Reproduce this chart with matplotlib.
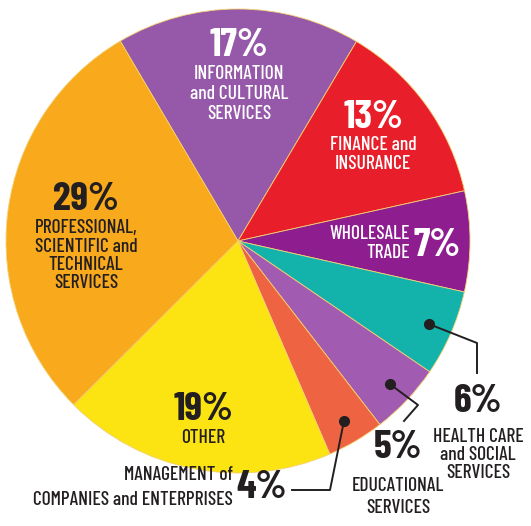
import numpy as np
import matplotlib
matplotlib.use("Agg")
import matplotlib.pyplot as plt

# --- datos ---
sectores = [
    "INFORMATION\nand CULTURAL\nSERVICES",
    "FINANCE and\nINSURANCE",
    "WHOLESALE\nTRADE",
    "HEALTH CARE\nand SOCIAL\nSERVICES",
    "EDUCATIONAL\nSERVICES",
    "MANAGEMENT of\nCOMPANIES and ENTERPRISES",
    "OTHER",
    "PROFESSIONAL,\nSCIENTIFIC and\nTECHNICAL\nSERVICES",
]
porcentajes = [17, 13, 7, 6, 5, 4, 19, 29]
colores = ["#9658a8", "#e81f2b", "#8e1e8f", "#13b3ac",
           "#a15bb0", "#ee6442", "#fce312", "#f8a91c"]

# fuente condensada
plt.rcParams["font.family"] = ["Barlow Condensed", "DejaVu Sans"]
OSCURO = "#231f20"
T_PCT = 29
T_TXT = 14
P_PCT = 700   # peso de los porcentajes
P_TXT = 500   # peso del texto

W, H = 531, 526
fig = plt.figure(figsize=(W / 100, H / 100), dpi=100)
ax = fig.add_axes([0, 0, 1, 1])

CX, CY, R = 238, H - 241, 232
wedges, _ = ax.pie(porcentajes, colors=colores, startangle=120.5,
                   counterclock=False, center=(CX, CY), radius=R,
                   wedgeprops=dict(linewidth=0.6, edgecolor="#f4d070"))
ax.set_xlim(0, W)
ax.set_ylim(0, H)
ax.axis("off")


def y(v):
    return H - v


def etiqueta(x, yp, pct, texto, color, sep=19, gap=28):
    ax.text(x, y(yp), f"{pct}%", color=color, fontsize=T_PCT, fontweight=P_PCT,
            ha="center", va="center")
    for i, l in enumerate(texto.split("\n")):
        ax.text(x, y(yp + gap + i * sep), l, color=color, fontsize=T_TXT,
                fontweight=P_TXT, ha="center", va="center")


# etiquetas interiores
etiqueta(239, 46, porcentajes[0], sectores[0], "white", sep=20)
etiqueta(373, 117, porcentajes[1], sectores[1], "white")
etiqueta(86, 200, porcentajes[7], sectores[7], OSCURO, sep=18.5)
etiqueta(203, 410, porcentajes[6], sectores[6], OSCURO)

# wholesale
for i, l in enumerate(sectores[2].split("\n")):
    ax.text(410, y(234 + i * 19), l, color="white", fontsize=T_TXT,
            fontweight=P_TXT, ha="right", va="center")
ax.text(437, y(246), f"{porcentajes[2]}%", color="white", fontsize=T_PCT,
        fontweight=P_PCT, ha="center", va="center")

# puntos y líneas guía para sectores pequeños
angs = [(w.theta1 + w.theta2) / 2 for w in wedges]
pts = {}
for k in (3, 4, 5):
    a = np.deg2rad(angs[k])
    pts[k] = (CX + 0.90 * R * np.cos(a), CY + 0.90 * R * np.sin(a))
    ax.plot(*pts[k], "o", color=OSCURO, ms=7, zorder=5)

lw = 1.4
ax.plot([pts[3][0], 477, 477], [pts[3][1], y(343), y(373)], color=OSCURO, lw=lw)
ax.plot([pts[4][0], 418, 404], [pts[4][1], y(405), y(421)], color=OSCURO, lw=lw)
ax.plot([pts[5][0], 330, 292], [pts[5][1], y(490), y(490)], color=OSCURO, lw=lw)

etiqueta(478, 401, porcentajes[3], sectores[3], OSCURO, sep=18, gap=36)
etiqueta(398, 448, porcentajes[4], sectores[4], OSCURO, sep=22, gap=38)

# management
ml = sectores[5].split("\n")
ax.text(233, y(475), ml[0], color=OSCURO, fontsize=T_TXT, fontweight=P_TXT,
        ha="right", va="center")
ax.text(233, y(500), ml[1], color=OSCURO, fontsize=T_TXT, fontweight=P_TXT,
        ha="right", va="center")
ax.text(262, y(488), f"{porcentajes[5]}%", color=OSCURO, fontsize=T_PCT,
        fontweight=P_PCT, ha="center", va="center")

fig.savefig("out.png", dpi=100, facecolor="white")
